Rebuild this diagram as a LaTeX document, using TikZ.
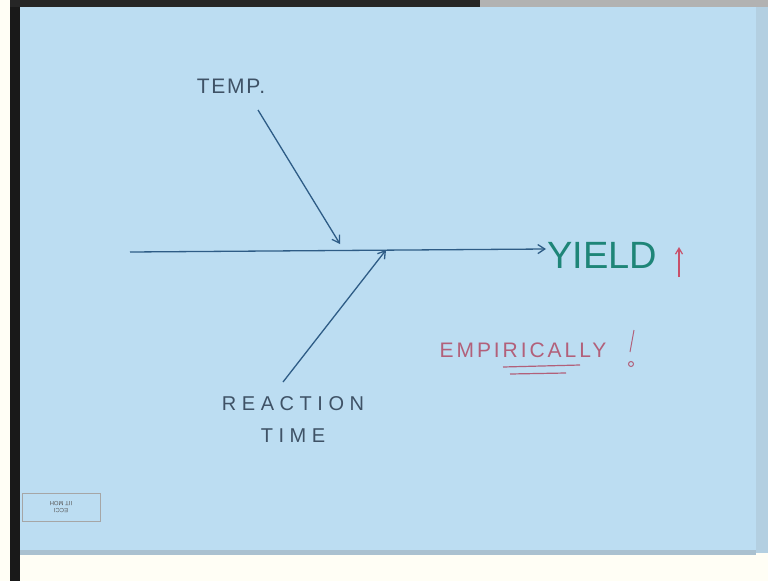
\documentclass[tikz,border=0pt]{standalone}
\usepackage{xcolor}
\usepackage{fontspec}
\setmainfont{Liberation Sans}
\usetikzlibrary{arrows.meta}

\definecolor{paper}{HTML}{BCDDF2}
\definecolor{ink}{HTML}{2E5C86}
\definecolor{pencil}{HTML}{3F5266}
\definecolor{teal}{HTML}{1E8578}
\definecolor{mauve}{HTML}{B2607A}
\definecolor{redink}{HTML}{C8506A}

\begin{document}
\begin{tikzpicture}[x=1pt,y=-1pt]
\tikzstyle{handtext} = [inner sep=1pt, text=pencil, font=\fontsize{21}{24}\selectfont]
\tikzstyle{arrow} = [ink, line width=1.3pt, -{Straight Barb[length=7pt,width=9pt]}]

% sheet and surroundings
\useasboundingbox (0,0) rectangle (768,581);
\fill[white!96!yellow] (0,0) rectangle (768,581);
\fill[black!90] (10,0) rectangle (20,581);
\fill[black!85] (10,0) rectangle (480,7);
\fill[gray!60] (480,0) rectangle (768,7);
\fill[paper] (20,7) rectangle (756,553);
\fill[paper!85!gray] (756,7) rectangle (768,553);
\fill[paper!70!gray] (20,550) rectangle (756,555);

% labels
\node (temp) [handtext, font=\fontsize{21}{24}\selectfont\addfontfeature{LetterSpace=8}] at (231,86) {TEMP.};
\node (reaction) [handtext, align=center, font=\fontsize{20}{32}\selectfont] at (293,420) {R E A C T I O N\\T I M E};
\node (yield) [handtext, anchor=west, text=teal, font=\fontsize{38}{40}\selectfont] at (546,255) {YIELD};
\node (empir) [handtext, text=mauve, font=\fontsize{21}{24}\selectfont\addfontfeature{LetterSpace=14}] at (523,350) {EMPIRICALLY};

% arrows
\coordinate (start) at (130,252);
\coordinate (tempfoot) at (258,110);
\coordinate (temphead) at (340,244);
\coordinate (timefoot) at (283,382);
\coordinate (timehead) at (386,250);
\draw [arrow] (start) -- ([yshift=6pt]yield.west);
\draw [arrow] (tempfoot) -- (temphead);
\draw [arrow] (timefoot) -- (timehead);

% up arrow, exclamation, underline
\coordinate (upfoot) at (679,277);
\coordinate (uphead) at (679,247);
\draw [redink, line width=1.2pt, -{Straight Barb[length=6pt,width=7pt]}] (upfoot) -- (uphead);
\draw [mauve, line width=1pt] (634,330) -- (630,352);
\draw [mauve, line width=1pt] (631,364) circle (2.5);
\draw [mauve, line width=1.2pt] (503,367) -- (580,365);
\draw [mauve, line width=1.2pt] (510,374) -- (566,373);

% stamp
\node (stamp) [draw=gray!70, line width=0.6pt, minimum width=78, minimum height=28, inner sep=1pt] at (61,507) {};
\node [rotate=180, text=gray!70!black, font=\fontsize{6}{7}\selectfont, align=center] at (stamp) {ECCI\\IIT MOH};

\end{tikzpicture}
\end{document}
